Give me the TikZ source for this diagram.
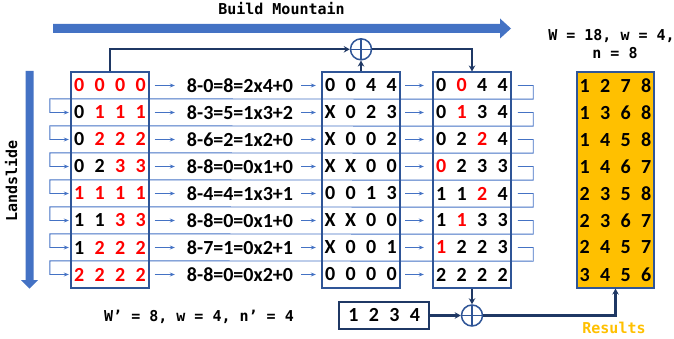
\documentclass[tikz,border=0pt]{standalone}
\usepackage{fontspec}
\setmainfont{Carlito}
\newfontfamily\monof{DejaVu Sans Mono}
\usetikzlibrary{arrows.meta}

\definecolor{boxblue}{HTML}{2F5597}
\definecolor{lineblue}{HTML}{4472C4}
\definecolor{navy}{HTML}{1F3864}
\definecolor{gold}{HTML}{FFC000}

% digits laid out on a fixed column pitch
\newcommand\R[1]{\textcolor{red}{#1}}
\newcommand\four[4]{\makebox[20.5pt]{#1}\makebox[20.5pt]{#2}\makebox[20.5pt]{#3}\makebox[20.5pt]{#4}}
\newcommand\digitfont{\bfseries\fontsize{20}{22}\selectfont}

\tikzset{
  boxframe/.style={draw=boxblue, line width=1.1pt, minimum width=78pt,
    minimum height=216pt, inner sep=0pt},
  cell/.style={minimum width=78pt, minimum height=27pt, inner sep=0pt, font=\digitfont},
  eqn/.style={minimum width=110pt, minimum height=27pt, inner sep=0pt, font=\digitfont},
  flow/.style={draw=lineblue, line width=0.8pt, -{Stealth[length=5pt,width=4pt]}},
  rowloop/.style={draw=lineblue, line width=0.9pt, -{Stealth[length=5pt,width=4pt]}},
  feed/.style={draw=navy, line width=2.3pt, -{Stealth[length=6pt,width=6.5pt]}},
  xor/.style={circle, draw=boxblue, fill=white, line width=1.5pt, minimum size=21pt,
    inner sep=0pt, path picture={
      \draw[boxblue, line width=1.5pt]
        (path picture bounding box.north) -- (path picture bounding box.south)
        (path picture bounding box.west) -- (path picture bounding box.east);}},
  caption/.style={font=\monof\bfseries\fontsize{15}{18}\selectfont, inner sep=0pt},
  blockarrow/.style={fill=lineblue, draw=none},
}

% one row of the pipeline: source, remainder equation, shifted row, result row
\newcommand\putrow[5]{%
  \pgfmathsetmacro\rowy{72+27*(#1-0.5)}%
  \node[cell] (L#1) at (110,\rowy) {#2};
  \node[eqn]  (E#1) at (240,\rowy) {#3};
  \node[cell] (M#1) at (361,\rowy) {#4};
  \node[cell] (R#1) at (472,\rowy) {#5};
  \draw[flow] ([xshift=3.5pt]L#1.east) -- ([xshift=-10pt]E#1.west);
  \draw[flow] ([xshift=6pt]E#1.east) -- ([xshift=-4pt]M#1.west);
  \draw[flow] ([xshift=3pt]M#1.east) -- ([xshift=-7pt]R#1.west);
}
\newcommand\putgold[2]{%
  \pgfmathsetmacro\rowy{72+27*(#1-0.5)}%
  \node[cell] (G#1) at (615.5,\rowy) {#2};
}

\begin{document}
\begin{tikzpicture}[x=1pt,y=-1pt]
\useasboundingbox (0,0) rectangle (674,339);

% direction arrows
\fill[blockarrow] (53,24) -- (500,24) -- (500,18.5) -- (511,28.5) -- (500,38.5)
  -- (500,33) -- (53,33) -- cycle;
\fill[blockarrow] (25.5,71) -- (33.5,71) -- (33.5,280) -- (38,280) -- (29.5,288.5)
  -- (21,280) -- (25.5,280) -- cycle;
\node[caption, anchor=base] (bm) at (281.5,15) {Build Mountain};
\node[caption, anchor=base, rotate=90] (ls) at (17,181) {Landslide};

% gold result table
\node[boxframe, fill=gold, minimum width=77pt] (Gbox) at (615.5,180) {};
\putgold{1}{\four1278}
\putgold{2}{\four1368}
\putgold{3}{\four1458}
\putgold{4}{\four1467}
\putgold{5}{\four2358}
\putgold{6}{\four2367}
\putgold{7}{\four2457}
\putgold{8}{\four3456}

% rows
\putrow{1}{\four{\R0}{\R0}{\R0}{\R0}}{8-0=8=2x4+0}{\four0044}{\four0{\R0}44}
\putrow{2}{\four0{\R1}{\R1}{\R1}}{8-3=5=1x3+2}{\four X023}{\four0{\R1}34}
\putrow{3}{\four0{\R2}{\R2}{\R2}}{8-6=2=1x2+0}{\four X002}{\four02{\R2}4}
\putrow{4}{\four02{\R3}{\R3}}{8-8=0=0x1+0}{\four XX00}{\four{\R0}233}
\putrow{5}{\four{\R1}{\R1}{\R1}{\R1}}{8-4=4=1x3+1}{\four0013}{\four11{\R2}4}
\putrow{6}{\four11{\R3}{\R3}}{8-8=0=0x1+0}{\four XX00}{\four1{\R1}33}
\putrow{7}{\four1{\R2}{\R2}{\R2}}{8-7=1=0x2+1}{\four X001}{\four{\R1}223}
\putrow{8}{\four{\R2}{\R2}{\R2}{\R2}}{8-8=0=0x2+0}{\four0000}{\four2222}

% each result row feeds the next source row
\foreach \i [evaluate=\i as \j using int(\i+1)] in {1,...,7} {
  \draw[rowloop] ([xshift=4.7pt]R\i.east) -| ([xshift=20pt]R\i.south east)
    -- ([xshift=-19pt]L\j.north west) |- (L\j.west);
}

% frames
\node[boxframe] (Lbox) at (110,180) {};
\node[boxframe] (Mbox) at (361,180) {};
\node[boxframe] (Rbox) at (472,180) {};

% xor stages
\node[xor] (xtop) at (361,49.3) {};
\node[xor] (xbot) at (472,315.5) {};
\node[draw=navy, line width=1.8pt, fill=white, minimum width=90pt, minimum height=26.6pt,
  inner sep=0pt, font=\digitfont] (N) at (384.3,315.5) {\four1234};

\draw[feed] (Lbox.north) |- (xtop.west);
\draw[feed] (Mbox.north) -- (xtop.south);
\draw[feed] (xtop.east) -| (Rbox.north);
\draw[feed] (Rbox.south) -- (xbot.north);
\draw[feed] (N.east) -- (xbot.west);
\draw[feed] (xbot.east) -| (Gbox.south);

% parameters and caption
\node[caption, anchor=base] (p1) at (611.5,40.7) {W = 18, w = 4,};
\node[caption, anchor=base] (p2) at (615,59) {n = 8};
\node[caption, anchor=base] (p3) at (199,321) {W’ = 8, w = 4, n’ = 4};
\node[caption, anchor=base, text=gold] (res) at (614,333.3) {Results};
\end{tikzpicture}
\end{document}
